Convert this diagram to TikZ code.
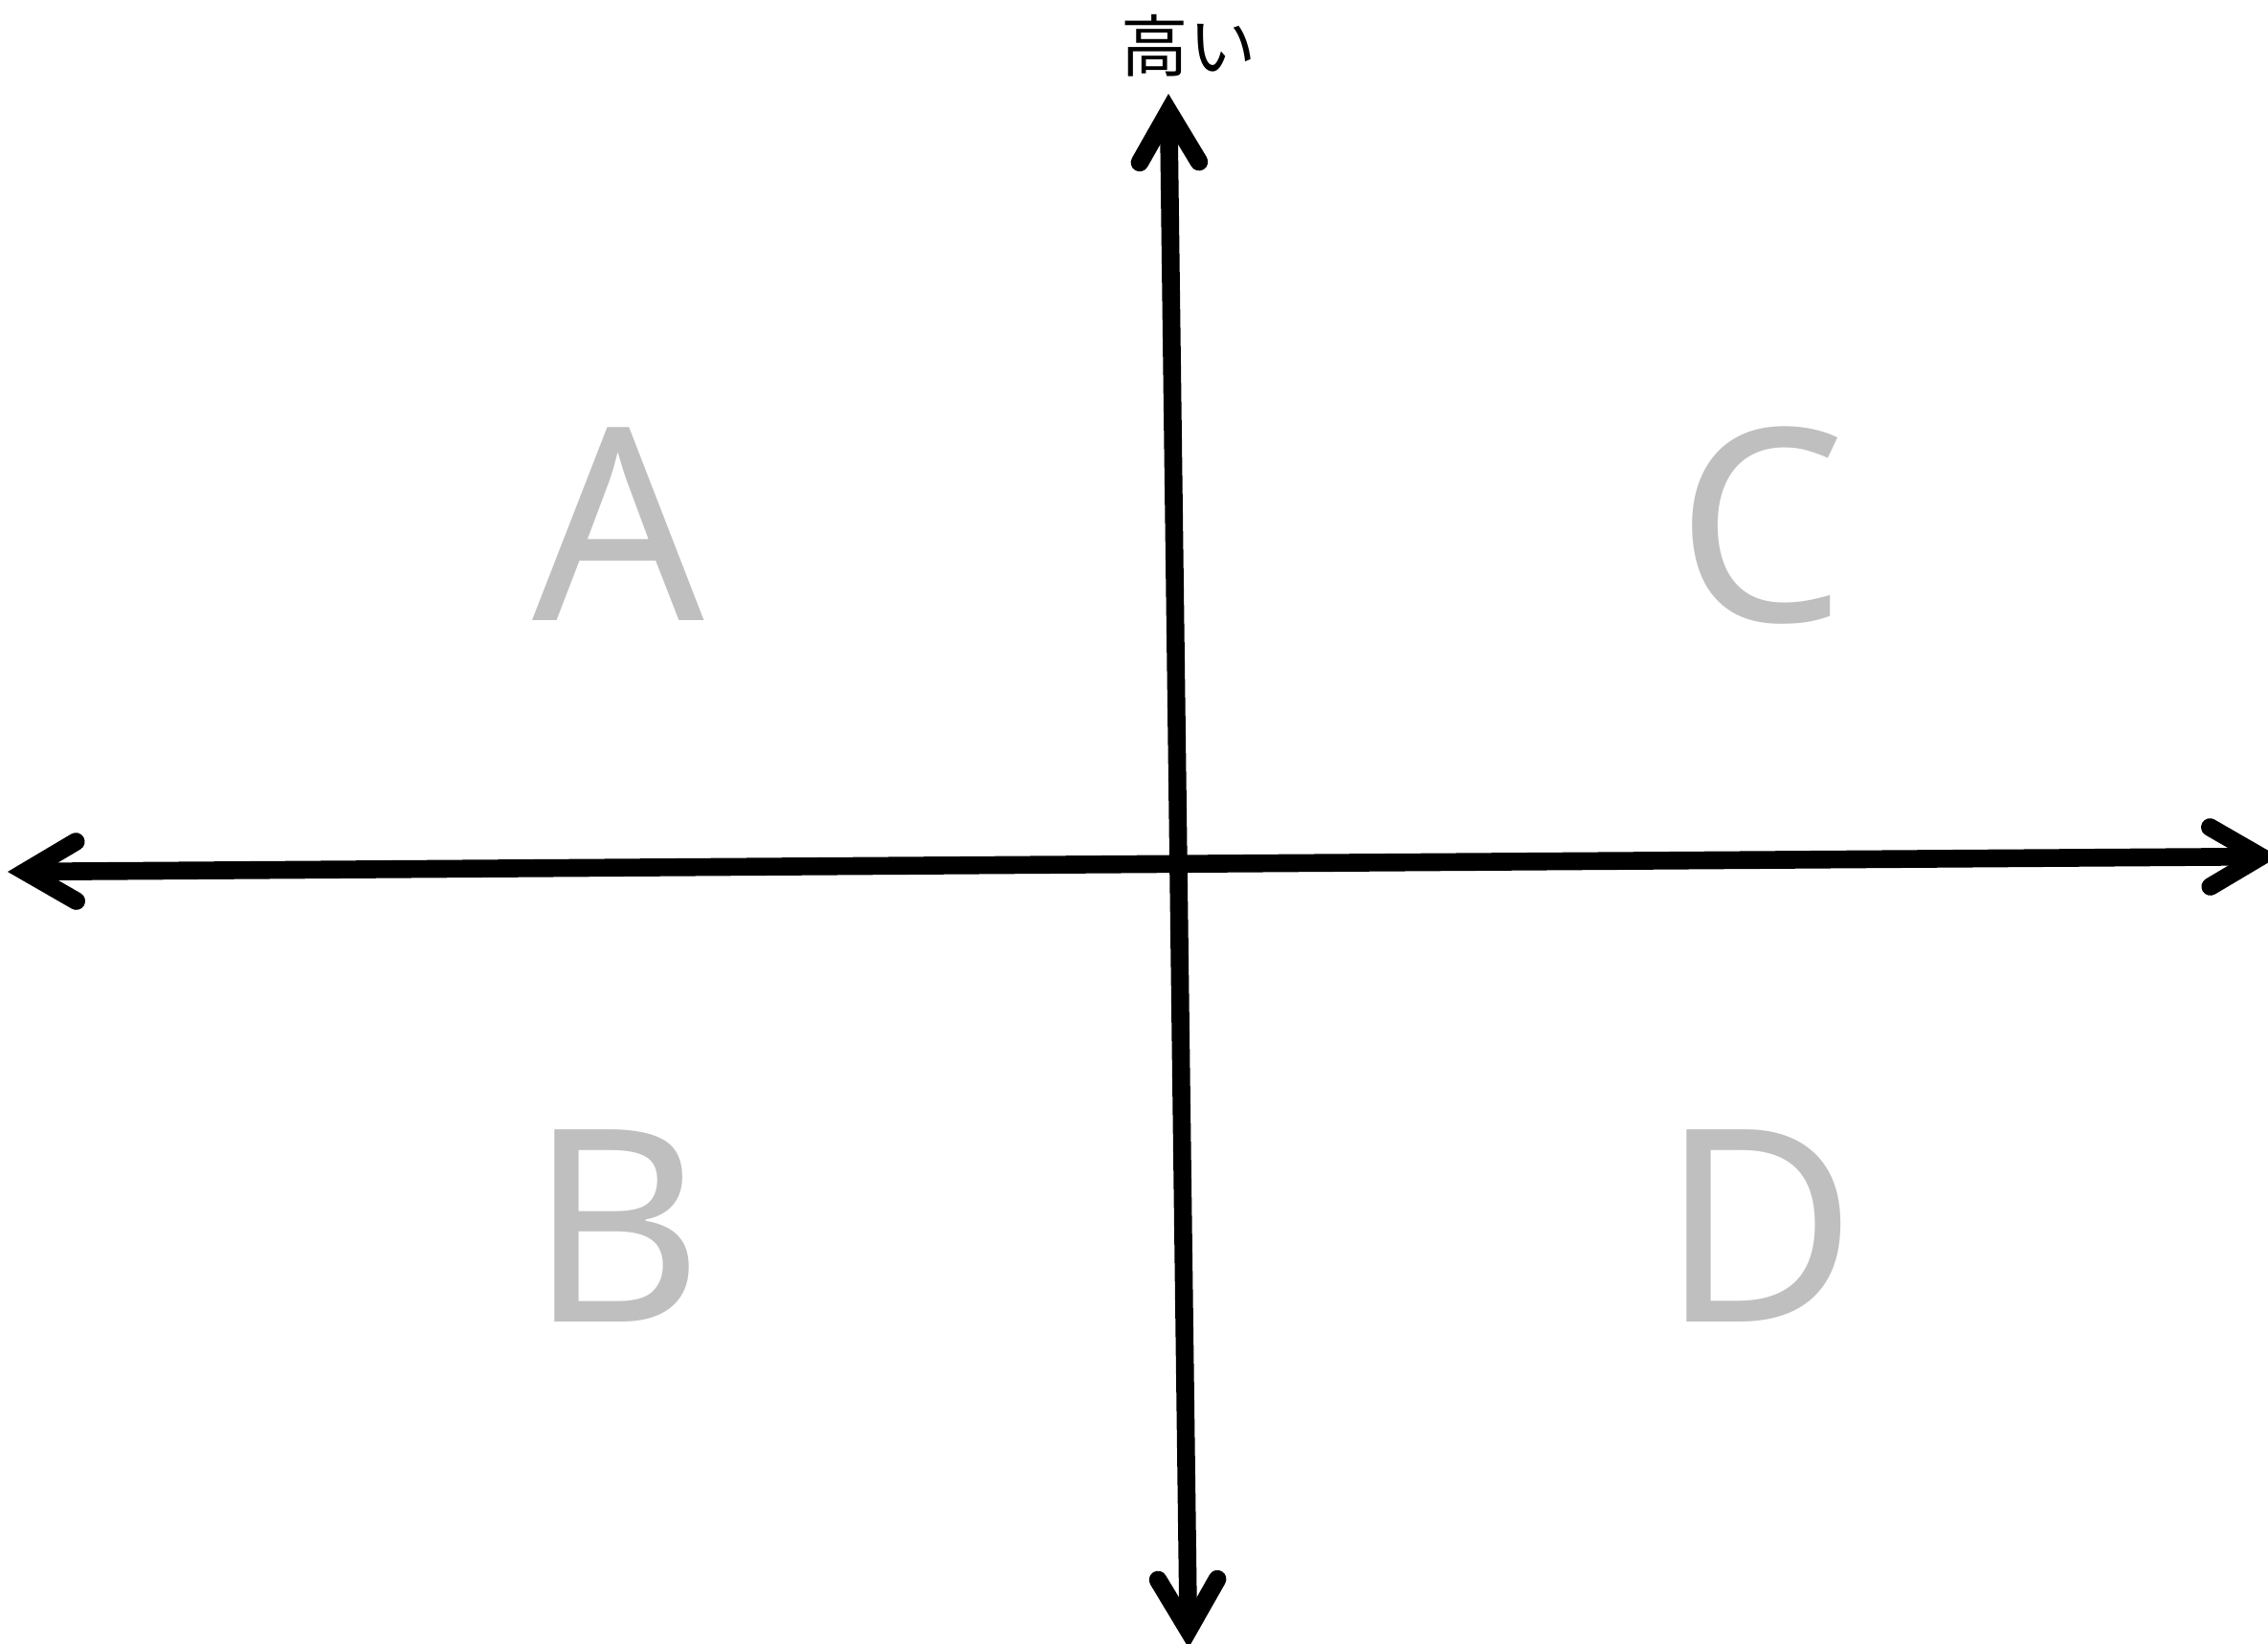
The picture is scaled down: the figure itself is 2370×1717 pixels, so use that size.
\documentclass[tikz,border=0pt]{standalone}
\usepackage{fontspec}
\setmainfont{Noto Sans}
\newfontfamily\jpfont{Noto Sans CJK JP}
\usetikzlibrary{arrows.meta}
\tikzset{axis/.style={{Straight Barb[length=5.3mm,width=6.2mm,line cap=round,line join=miter]}-{Straight Barb[length=5.3mm,width=6.2mm,line cap=round,line join=miter]},line width=5.3pt},
quad/.style={text=black!25,font=\fontsize{80}{80}\selectfont,inner sep=0pt},
lab/.style={font=\jpfont\fontsize{20}{20}\selectfont,inner sep=0pt}}
\begin{document}
\begin{tikzpicture}[x=0.01cm,y=-0.01cm]
\useasboundingbox (0,0) rectangle (2370,1717);
\coordinate (top) at (1221,98);
\coordinate (bottom) at (1242,1722);
\coordinate (left) at (8,911);
\coordinate (right) at (2381,895);
\node[lab] (high) at (1242,48) {高い};
\node[quad] (qa) at (646,548) {A};
\node[quad] (qc) at (1840,549) {C};
\node[quad] (qb) at (644,1281) {B};
\node[quad] (qd) at (1838,1281) {D};
\draw[axis] (bottom) -- (top);
\draw[axis] (left) -- (right);
\end{tikzpicture}
\end{document}
